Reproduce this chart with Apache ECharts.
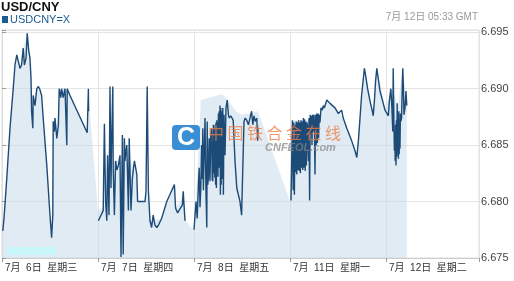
<!DOCTYPE html>
<html><head><meta charset="utf-8">
<script src="https://cdn.jsdelivr.net/npm/echarts@6/dist/echarts.min.js"></script>
<style>html,body{margin:0;padding:0;background:#fff}#c{width:514px;height:281px}</style>
</head><body><div id="c"></div>
<script>
// x = trading hours since 7月6日 00:00 (24 per trading day), y = USD/CNY rate
const dayLabels = ['7月  6日  星期三', '7月  7日  星期四', '7月  8日  星期五', '7月  11日  星期一', '7月  12日  星期二'];
const hoursPerDay = 24;
const xMaxHours = 119.25;
const yMin = 6.675, yMax = 6.6952, yStep = 0.005;
const seriesName = 'USDCNY=X';
const stampText = '7月 12日 05:33 GMT';

const segA = [[0.2,6.6774],[0.5,6.6785],[1.2,6.6821],[2.0,6.6865],[2.8,6.6900],[3.25,6.6921],[3.7,6.6930],[4.1,6.6924],[4.5,6.6918],[4.9,6.6921],[5.3,6.6936],[5.6,6.6921],[6.0,6.6927],[6.3,6.6949],[6.7,6.6933],[7.0,6.6927],[7.25,6.6909],[7.4,6.6880],[7.7,6.6865],[7.8,6.6894],[8.25,6.6885],[8.7,6.6900],[9.1,6.6902],[9.5,6.6899],[9.9,6.6894],[10.3,6.6874],[11.2,6.6832],[12.0,6.6788],[12.4,6.6768],[12.7,6.6788],[12.8,6.6871],[13.1,6.6862],[13.25,6.6874],[13.7,6.6856],[14.1,6.6868],[14.3,6.6900],[14.7,6.6892],[14.9,6.6900],[15.3,6.6892],[15.75,6.6900],[16.2,6.6850],[16.3,6.6900],[17.0,6.6894],[21.3,6.6861],[21.6,6.6900],[21.65,6.6880]];
const segB = [[24.1,6.6783],[24.5,6.6784],[25.3,6.6792],[25.6,6.6869],[25.9,6.6800],[26.2,6.6783],[26.4,6.6841],[26.75,6.6788],[27.0,6.6902],[27.25,6.6812],[27.4,6.6850],[27.7,6.6902],[27.8,6.6830],[28.1,6.6788],[28.4,6.6836],[28.7,6.6828],[29.1,6.6832],[29.5,6.6841],[29.75,6.6751],[30.1,6.6859],[30.3,6.6753],[30.6,6.6856],[30.75,6.6836],[31.0,6.6845],[31.2,6.6850],[31.6,6.6792],[31.8,6.6856],[32.25,6.6792],[32.6,6.6821],[33.1,6.6836],[33.7,6.6824],[33.9,6.6800],[35.75,6.6800],[36.0,6.6809],[36.3,6.6902],[36.6,6.6809],[37.0,6.6783],[37.4,6.6777],[37.8,6.6788],[38.25,6.6779],[38.7,6.6777],[39.1,6.6779],[39.9,6.6785],[41.2,6.6800],[43.1,6.6815],[43.4,6.6794],[43.9,6.6790],[45.1,6.6797],[45.3,6.6809],[45.6,6.6809],[45.75,6.6783]];
const segC = [[48.0,6.6775],[48.5,6.6800],[48.8,6.6785],[49.1,6.6815],[49.3,6.6830],[49.5,6.6795],[49.7,6.6812],[49.9,6.6850],[50.05,6.6820],[50.2,6.6865],[50.35,6.6810],[50.5,6.6836],[50.75,6.6874],[51.0,6.6806],[51.2,6.6777],[51.3,6.6871],[51.45,6.6815],[51.6,6.6821],[51.8,6.6856],[52.0,6.6818],[52.2,6.6860],[52.4,6.6865],[52.55,6.6820],[52.7,6.6818],[52.85,6.6868],[53.0,6.6825],[53.1,6.6865],[53.2,6.6821],[53.3,6.6868],[53.4,6.6815],[53.5,6.6870],[53.6,6.6812],[53.7,6.6872],[53.8,6.6827],[53.9,6.6870],[54.0,6.6822],[54.1,6.6878],[54.2,6.6830],[54.3,6.6880],[54.4,6.6830],[54.5,6.6885],[54.6,6.6806],[54.7,6.6883],[54.8,6.6815],[54.9,6.6880],[55.05,6.6820],[55.2,6.6883],[55.35,6.6806],[55.5,6.6877],[55.75,6.6841],[56.0,6.6883],[56.3,6.6890],[56.6,6.6877],[56.8,6.6874],[57.2,6.6876],[57.8,6.6872],[58.25,6.6836],[58.7,6.6812],[59.5,6.6800],[59.9,6.6788],[60.2,6.6830],[60.5,6.6871],[60.8,6.6874],[61.2,6.6872],[61.6,6.6868],[62.0,6.6874],[62.4,6.6880],[62.7,6.6868],[63.0,6.6876],[63.3,6.6871],[63.7,6.6874],[63.9,6.6854],[64.1,6.6865]];
const segD = [[72.25,6.6801],[72.6,6.6872],[72.8,6.6810],[72.95,6.6870],[73.1,6.6806],[73.25,6.6868],[73.4,6.6826],[73.55,6.6871],[73.7,6.6824],[73.85,6.6870],[74.0,6.6828],[74.15,6.6872],[74.3,6.6827],[74.45,6.6870],[74.6,6.6825],[74.75,6.6872],[74.9,6.6830],[75.05,6.6871],[75.2,6.6828],[75.35,6.6874],[75.5,6.6830],[75.65,6.6873],[75.8,6.6827],[75.95,6.6871],[76.1,6.6832],[76.25,6.6870],[76.4,6.6865],[76.6,6.6836],[76.75,6.6874],[76.9,6.6801],[77.05,6.6877],[77.2,6.6860],[77.35,6.6876],[77.5,6.6850],[77.65,6.6877],[77.8,6.6862],[77.95,6.6877],[78.1,6.6868],[78.25,6.6824],[78.4,6.6877],[78.55,6.6850],[78.7,6.6878],[78.85,6.6852],[79.0,6.6878],[79.15,6.6856],[79.3,6.6877],[79.5,6.6870],[79.75,6.6883],[80.1,6.6881],[80.3,6.6885],[80.6,6.6883],[81.2,6.6890],[82.0,6.6887],[83.25,6.6883],[84.1,6.6878],[84.5,6.6877],[84.9,6.6881],[85.3,6.6874],[86.2,6.6865],[87.4,6.6854],[88.25,6.6845],[88.7,6.6839],[89.1,6.6854],[89.9,6.6894],[90.6,6.6918],[90.9,6.6912],[91.4,6.6900],[92.0,6.6889],[92.6,6.6880],[92.8,6.6876],[93.1,6.6889],[93.4,6.6907],[93.7,6.6918],[94.5,6.6898],[95.75,6.6881],[96.6,6.6876],[96.8,6.6887],[97.2,6.6900],[97.4,6.6889],[97.7,6.6862],[97.8,6.6918],[98.0,6.6865],[98.1,6.6845],[98.2,6.6862],[98.3,6.6836],[98.4,6.6868],[98.5,6.6832],[98.6,6.6872],[98.7,6.6840],[98.8,6.6887],[98.9,6.6845],[99.0,6.6860],[99.1,6.6838],[99.2,6.6880],[99.3,6.6842],[99.4,6.6870],[99.5,6.6847],[99.6,6.6878],[99.7,6.6871],[99.9,6.6874],[100.1,6.6907],[100.2,6.6918],[100.3,6.6907],[100.5,6.6877],[100.75,6.6883],[101.0,6.6898],[101.2,6.6885]];

const fillPoints = [[0,6.6772],[0.5,6.6785],[1.2,6.6821],[2.0,6.6865],[2.8,6.6900],[3.7,6.6930],[4.5,6.6920],[5.3,6.6936],[6.3,6.6949],[7.0,6.6927],[7.6,6.6880],[8.25,6.6885],[8.7,6.6900],[9.5,6.6899],[10.3,6.6874],[11.2,6.6832],[12.0,6.6788],[12.4,6.6768],[12.8,6.6871],[13.7,6.6860],[14.3,6.6900],[15.75,6.6900],[17.0,6.6894],[21.3,6.6861],[21.6,6.6895],[24.0,6.6792],[25.5,6.6795],[26.5,6.6835],[32.0,6.6838],[33.5,6.6825],[34.0,6.6800],[35.8,6.6800],[36.3,6.6810],[37.0,6.6783],[39.9,6.6785],[43.1,6.6815],[43.5,6.6795],[45.3,6.6805],[46.0,6.6783],[47.0,6.6778],[48.0,6.6775],[48.5,6.6800],[49.7,6.6890],[55.0,6.6895],[56.5,6.6890],[58.5,6.6880],[60.0,6.6877],[64.0,6.6880],[64.2,6.6878],[72.0,6.6800],[72.3,6.6801],[72.8,6.6872],[76.5,6.6872],[77.0,6.6875],[79.5,6.6878],[81.2,6.6890],[84.5,6.6878],[86.2,6.6866],[88.7,6.6840],[90.6,6.6918],[92.8,6.6877],[93.7,6.6918],[94.5,6.6905],[95.75,6.6882],[97.4,6.6900],[99.0,6.6885],[100.2,6.6918],[101.2,6.6887]];

const lineData = [];
[segA, segB, segC, segD].forEach(function (seg, i) {
  if (i > 0) lineData.push([seg[0][0] - 0.5, '-']);
  seg.forEach(function (p) { lineData.push(p); });
});

const FONT = "'Liberation Sans', Arial, 'Noto Sans CJK SC', sans-serif";
const watermarkChars = '中国铁合金在线'.split('');
const graphics = [
  { type: 'rect', left: 7, top: 247, z: 50, shape: { width: 49, height: 8 }, style: { fill: '#c9f6fb' } },
  { type: 'rect', left: 172, top: 125, z: 150, shape: { width: 28, height: 25, r: 4 }, style: { fill: '#3a8ed3' } },
  { type: 'text', x: 186, y: 138, z: 151, style: { text: 'C', fill: '#ffffff', font: 'bold 25px ' + FONT, textAlign: 'center', textVerticalAlign: 'middle', align: 'center', verticalAlign: 'middle' } },
  { type: 'text', x: 265, y: 148, z: 150, style: { text: 'CNFEOL.com', fill: 'rgba(130,130,130,0.7)', font: 'italic bold 11px ' + FONT, textVerticalAlign: 'middle', verticalAlign: 'middle' } }
];
watermarkChars.forEach(function (ch, i) {
  graphics.push({ type: 'text', x: 208 + i * 19.5, y: 135, z: 150, style: { text: ch, fill: 'rgba(240,125,70,0.78)', font: '16px ' + FONT, textVerticalAlign: 'middle', verticalAlign: 'middle' } });
});

const chart = echarts.init(document.getElementById('c'), null, { renderer: 'canvas' });
chart.setOption({
  animation: false,
  textStyle: { fontFamily: FONT },
  title: [
    { text: 'USD/CNY', left: 1, top: 1, padding: 0, textStyle: { fontSize: 13, fontWeight: 'bold', color: '#111', fontFamily: FONT } },
    { text: stampText, right: 36, top: 12, padding: 0, textStyle: { fontSize: 10, fontWeight: 'normal', color: '#999', fontFamily: FONT } }
  ],
  legend: {
    data: [seriesName], left: 2, top: 14, padding: 0, itemWidth: 6, itemHeight: 7, itemGap: 4, icon: 'rect',
    textStyle: { fontSize: 11, color: '#1d5b8f', fontFamily: FONT, padding: [0, 0, 0, -3] }
  },
  grid: { left: 2, right: 35, top: 30, bottom: 23, show: true, borderColor: '#dddddd', borderWidth: 1, containLabel: false },
  xAxis: {
    type: 'value', min: 0, max: xMaxHours, interval: hoursPerDay,
    axisLine: { show: true, lineStyle: { color: '#cccccc' } },
    axisTick: { show: true, length: 4, lineStyle: { color: '#999' } },
    splitLine: { show: true, lineStyle: { color: '#e4e4e4' } },
    axisLabel: {
      show: true, align: 'left', margin: 5, padding: [0, 0, 0, 3], color: '#333', fontSize: 10, fontFamily: FONT,
      showMinLabel: true, showMaxLabel: true, hideOverlap: false,
      formatter: function (v) {
        const i = Math.round(v / hoursPerDay);
        return (Math.abs(v - i * hoursPerDay) < 1e-6 && i < dayLabels.length) ? dayLabels[i] : '';
      }
    }
  },
  yAxis: {
    type: 'value', position: 'right', min: yMin, max: yMax, interval: yStep, scale: true,
    axisLine: { show: true, lineStyle: { color: '#dddddd' } },
    axisTick: { show: true, length: 4, lineStyle: { color: '#999' } },
    splitLine: { show: true, lineStyle: { color: '#e4e4e4' } },
    axisLabel: {
      margin: 2, color: '#444', fontSize: 11, fontFamily: FONT,
      formatter: function (v) {
        const k = v / yStep;
        return Math.abs(k - Math.round(k)) < 1e-4 ? v.toFixed(3) : '';
      }
    }
  },
  graphic: graphics,
  series: [
    {
      name: 'fill', type: 'line', data: fillPoints, z: 1, showSymbol: false, symbol: 'none',
      lineStyle: { width: 0, opacity: 0 }, areaStyle: { color: 'rgba(196,216,232,0.72)' }, silent: true
    },
    {
      name: seriesName, type: 'line', data: lineData, z: 100, showSymbol: false, symbol: 'none',
      connectNulls: false, sampling: null,
      itemStyle: { color: '#1d5b8f' },
      lineStyle: { color: '#1c4b78', width: 1.4 }
    }
  ]
});
</script></body></html>
